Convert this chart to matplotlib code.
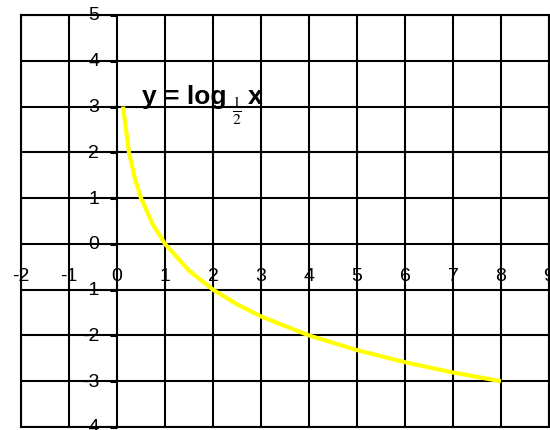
import matplotlib
matplotlib.use("Agg")
import matplotlib.pyplot as plt
import numpy as np

plt.rcParams["font.family"] = ["Liberation Sans", "DejaVu Sans"]
plt.rcParams["mathtext.fontset"] = "stix"

# points of y = log_{1/2} x
x_vals = [0.125, 0.25, 0.375, 0.5, 0.75, 1, 1.5, 2, 2.5, 3, 4, 5, 6, 7, 8]
y_vals = [3, 2, 1.415, 1, 0.415, 0, -0.585, -1, -1.32, -1.585, -2, -2.32, -2.585, -2.81, -3]

x_ticks = list(range(-2, 10))
y_ticks = list(range(-4, 6))
x_labels = [str(v) for v in x_ticks]
y_labels = [str(v) for v in y_ticks]

fig = plt.figure(figsize=(5.5, 4.31), dpi=100)
ax = fig.add_axes([21 / 550, 3 / 431, 528 / 550, 412 / 431])
ax.set_xlim(-2, 9)
ax.set_ylim(-4, 5)

ax.set_xticks(x_ticks)
ax.set_yticks(y_ticks)
ax.tick_params(length=0, labelbottom=False, labelleft=False)
ax.grid(True, color="black", linewidth=1.5)
ax.set_axisbelow(True)
for sp in ax.spines.values():
    sp.set_color("black")
    sp.set_linewidth(1.5)

# small tick marks on the y axis at x = 0
ax.plot(np.zeros(len(y_ticks)), y_ticks, ls="none", marker=0,
        markersize=5, markeredgewidth=2.2, color="black", clip_on=False)

for v, lab in zip(x_ticks, x_labels):
    ax.text(v, -0.7, lab, ha="center", va="center", fontsize=14, clip_on=False)
for v, lab in zip(y_ticks, y_labels):
    ax.text(-0.37, v, lab, ha="right", va="center", fontsize=14, clip_on=False)

ax.plot(x_vals, y_vals, color="#ffff00", linewidth=3, solid_capstyle="butt",
        zorder=3)

# equation label
ax.text(0.52, 3.08, "y = log", fontsize=19, fontweight="bold",
        ha="left", va="baseline")
ax.text(2.5, 2.92, r"$\frac{1}{2}$", fontsize=16, ha="center", va="center")
ax.text(2.72, 3.08, "x", fontsize=19, fontweight="bold",
        ha="left", va="baseline")

fig.savefig("out.png", dpi=100)
